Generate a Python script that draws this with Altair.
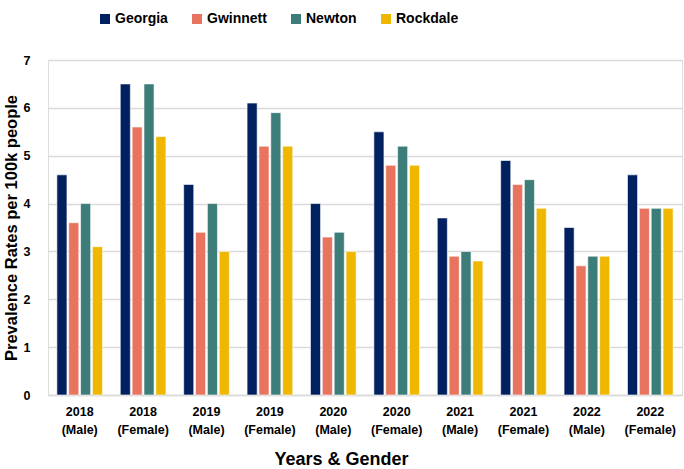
import altair as alt
import pandas as pd

# Prevalence rates per 100k people, by year and gender
groups = ["2018 (Male)", "2018 (Female)", "2019 (Male)", "2019 (Female)",
          "2020 (Male)", "2020 (Female)", "2021 (Male)", "2021 (Female)",
          "2022 (Male)", "2022 (Female)"]
regions = ["Georgia", "Gwinnett", "Newton", "Rockdale"]
georgia = [4.6, 6.5, 4.4, 6.1, 4.0, 5.5, 3.7, 4.9, 3.5, 4.6]
gwinnett = [3.6, 5.6, 3.4, 5.2, 3.3, 4.8, 2.9, 4.4, 2.7, 3.9]
newton = [4.0, 6.5, 4.0, 5.9, 3.4, 5.2, 3.0, 4.5, 2.9, 3.9]
rockdale = [3.1, 5.4, 3.0, 5.2, 3.0, 4.8, 2.8, 3.9, 2.9, 3.9]
colors = ["#00205F", "#E8735F", "#3D7D79", "#EFB700"]

series = {"Georgia": georgia, "Gwinnett": gwinnett,
          "Newton": newton, "Rockdale": rockdale}
rows = []
for region in regions:
    for g, v in zip(groups, series[region]):
        rows.append({"group": g, "region": region, "rate": v})
df = pd.DataFrame(rows)

FONT = "Liberation Sans"

chart = alt.Chart(df).mark_bar(stroke="white", strokeWidth=0.6).encode(
    x=alt.X("group:N", sort=groups,
            scale=alt.Scale(paddingInner=0.28, paddingOuter=0.14),
            axis=alt.Axis(title="Years & Gender", labelAngle=0,
                          labelExpr="split(datum.label, ' ')",
                          labelFont=FONT, labelFontSize=12.5, labelFontWeight="bold",
                          labelColor="#000000", labelLineHeight=18, labelPadding=10,
                          ticks=False, domainColor="#D9D9D9", domainWidth=1.5,
                          titleFont=FONT, titleFontSize=18, titleFontWeight="bold",
                          titleColor="#000000", titlePadding=15,
                          titleX=293, titleAnchor="start", titleAlign="center")),
    xOffset=alt.XOffset("region:N", sort=regions,
                        scale=alt.Scale(paddingInner=0.15)),
    y=alt.Y("rate:Q",
            scale=alt.Scale(domain=[0, 7], nice=False),
            axis=alt.Axis(title="Prevalence Rates per 100k people",
                          values=[0, 1, 2, 3, 4, 5, 6, 7], format="d",
                          domain=False, ticks=False,
                          gridColor="#D9D9D9", gridWidth=1.5,
                          labelFont=FONT, labelFontSize=12.5, labelFontWeight="bold",
                          labelColor="#000000", labelPadding=18,
                          titleFont=FONT, titleFontSize=16.5, titleFontWeight="bold",
                          titleColor="#000000", titlePadding=4)),
    color=alt.Color("region:N", sort=regions,
                    scale=alt.Scale(domain=regions, range=colors),
                    legend=alt.Legend(title=None, orient="none",
                                      legendX=50, legendY=-48,
                                      direction="horizontal", columns=4,
                                      columnPadding=22,
                                      symbolType="square", symbolSize=100,
                                      symbolStrokeWidth=0, labelOffset=3,
                                      labelFont=FONT, labelFontSize=14,
                                      labelFontWeight="bold",
                                      labelColor="#000000")),
).properties(
    width=634, height=335,
    autosize=alt.AutoSizeParams(type="none"),
    padding={"left": 48, "top": 60, "right": 2, "bottom": 74},
).configure_view(stroke=None).configure(background="white")

chart.save("out.html", embed_options={"renderer": "svg", "actions": False})
